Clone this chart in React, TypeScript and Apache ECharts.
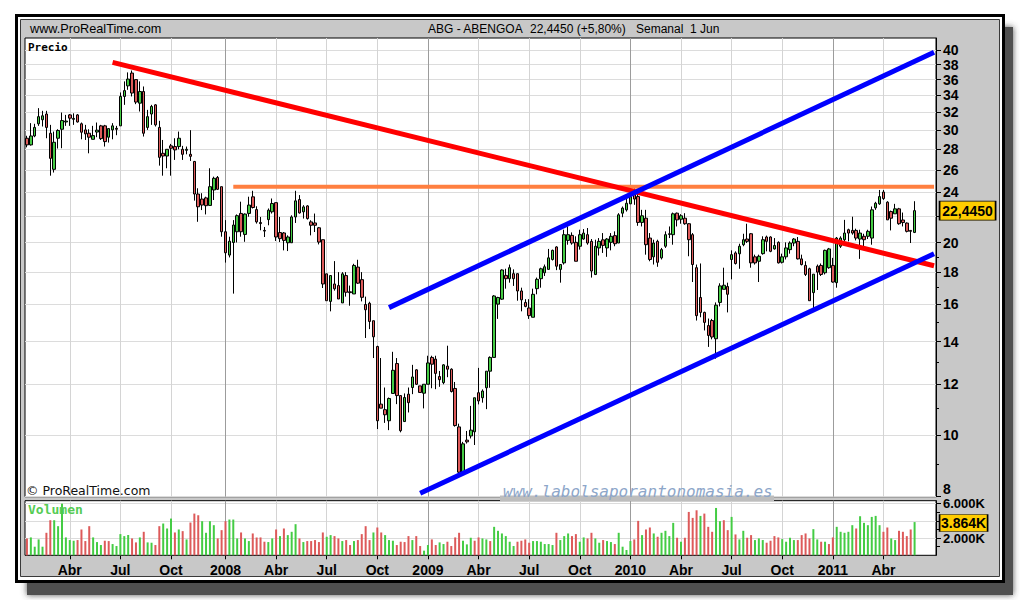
import React, { useEffect, useRef } from 'react';
import * as echarts from 'echarts';

// ---------- data ----------
const FIRST_WEEK = '2007-01-15';
const BLANK_WEEKS = 5;

// weekly candles: [open, close, low, high]
const ohlc2007 = [
  [29.14, 28.45, 28.2, 29.4], [28.45, 29.38, 28.38, 30.77], [29.38, 30.3, 29.25, 30.7], [30.7, 31.5, 30.47, 32.48],
  [31.15, 31.6, 30.4, 32.17], [31.8, 30.3, 29.14, 32.17], [29.67, 27.1, 25.46, 30.58], [26.05, 28.72, 25.75, 29.85],
  [29.14, 29.97, 28.08, 30.1], [30.1, 31.06, 28.11, 31.97], [30.9, 31.0, 30.47, 31.7], [31.7, 31.33, 30.47, 31.8],
  [31.2, 31.3, 30.58, 31.88], [31.7, 30.9, 30.84, 31.8], [30.7, 29.78, 29.03, 30.84], [30.03, 29.6, 28.96, 30.58],
  [29.67, 29.25, 27.6, 30.1], [29.03, 29.42, 29.03, 30.47], [29.8, 30.0, 29.25, 30.84], [30.47, 29.1, 28.96, 30.58],
  [30.47, 28.79, 28.28, 30.58], [29.25, 30.17, 28.69, 30.21], [30.03, 30.47, 29.03, 30.77], [30.2, 30.1, 29.46, 30.47],
  [30.47, 33.88, 30.47, 34.37], [33.88, 34.6, 32.87, 35.77], [35.2, 36.07, 34.7, 36.95], [36.86, 34.3, 33.88, 37.2],
  [36.0, 33.2, 32.95, 36.0], [33.07, 34.49, 32.09, 35.77], [34.49, 29.67, 29.32, 35.12], [30.3, 31.5, 30.03, 32.28],
  [31.8, 32.68, 30.58, 32.87], [32.87, 30.58, 30.4, 32.95], [30.3, 27.2, 26.4, 31.03], [27.6, 27.33, 25.46, 28.96],
  [27.33, 28.0, 26.15, 28.0], [28.35, 28.11, 25.46, 28.55], [28.28, 27.94, 26.95, 29.14], [28.28, 29.14, 28.0, 29.85],
  [28.0, 27.5, 26.95, 28.35], [27.9, 28.0, 27.5, 28.28], [27.5, 27.3, 26.85, 30.0], [26.8, 23.83, 23.27, 26.85],
  [23.83, 22.76, 21.56, 24.33], [23.4, 22.9, 22.49, 23.9], [23.5, 22.85, 22.14, 23.6], [22.87, 24.47, 22.87, 26.15],
  [24.18, 25.22, 23.32, 25.37], [25.3, 24.24, 24.18, 25.43], [24.47, 20.8, 20.43, 24.47],
];
const ohlc2008 = [
  [20.8, 19.28, 18.61, 21.69], [19.12, 20.1, 18.96, 20.43], [20.01, 21.31, 16.64, 21.69], [20.8, 22.04, 20.01, 22.14],
  [22.22, 20.8, 20.43, 23.18], [20.6, 22.17, 20.06, 22.22], [22.22, 22.9, 21.96, 23.6], [23.59, 22.7, 22.62, 24.11],
  [22.53, 21.55, 21.42, 22.8], [21.5, 21.42, 20.91, 21.94], [20.9, 20.85, 20.41, 21.16], [21.73, 22.48, 21.29, 22.62],
  [22.35, 23.03, 22.21, 23.45], [23.1, 20.41, 20.12, 23.1], [20.74, 20.29, 20.04, 21.94], [20.71, 20.16, 19.45, 20.78],
  [19.99, 20.41, 19.4, 20.53], [19.99, 21.94, 19.99, 22.07], [21.94, 23.25, 21.47, 24.11], [23.36, 22.26, 22.21, 23.74],
  [22.35, 22.75, 21.81, 22.89], [22.83, 21.81, 21.73, 22.89], [21.55, 21.29, 20.53, 21.68], [21.47, 21.29, 20.78, 22.21],
  [21.1, 20.04, 19.87, 21.16], [20.21, 17.23, 16.98, 20.21], [17.87, 16.22, 16.22, 17.87], [16.18, 17.76, 15.61, 17.76],
  [17.23, 16.93, 16.82, 18.71], [17.13, 16.32, 16.32, 17.98], [16.09, 17.87, 16.09, 17.98], [17.76, 16.72, 16.46, 17.98],
  [16.75, 16.7, 15.93, 17.13], [16.62, 18.42, 16.62, 18.53], [18.31, 17.28, 17.23, 18.8], [17.5, 16.42, 16.18, 17.98],
  [16.0, 15.7, 14.18, 16.46], [16.07, 15.05, 14.64, 16.16], [15.09, 14.24, 13.19, 15.09], [13.75, 10.52, 10.21, 13.79],
  [11.17, 11.01, 11.01, 13.19], [10.95, 10.75, 10.44, 11.86], [10.52, 11.4, 10.17, 11.44], [11.61, 12.62, 11.61, 13.49],
  [12.93, 11.52, 11.17, 13.19], [11.52, 10.15, 10.09, 11.52], [10.49, 11.44, 10.49, 11.61], [11.58, 11.23, 10.84, 11.86],
  [11.86, 12.32, 11.58, 12.87], [12.64, 12.0, 11.97, 12.67], [11.93, 11.65, 11.65, 11.93], [11.62, 12.0, 11.0, 12.0],
];
const ohlc2009 = [
  [12.0, 12.96, 12.0, 13.3], [13.22, 12.9, 11.83, 13.3], [13.14, 12.48, 11.79, 13.3], [12.34, 12.2, 11.89, 12.59],
  [12.07, 12.87, 12.0, 12.9], [12.81, 12.67, 12.31, 13.79], [12.67, 11.69, 11.65, 12.71], [11.82, 10.34, 10.3, 12.1],
  [10.29, 8.74, 8.64, 10.41], [8.74, 9.68, 8.74, 9.75], [9.81, 9.75, 9.69, 10.14], [9.96, 10.17, 9.87, 11.1],
  [10.11, 11.43, 9.64, 11.43], [11.64, 11.3, 11.16, 12.73], [11.43, 11.71, 11.23, 11.78], [11.85, 12.58, 10.97, 12.58],
  [12.58, 13.22, 11.85, 13.27], [13.22, 16.5, 13.21, 16.55], [16.02, 16.41, 15.19, 16.45], [16.31, 18.12, 16.27, 18.16],
  [17.77, 17.56, 16.94, 18.2], [17.56, 18.27, 17.31, 18.48], [17.88, 17.56, 17.11, 18.16], [17.88, 16.8, 16.22, 17.88],
  [16.8, 16.27, 15.61, 17.0], [16.12, 15.89, 15.84, 16.31], [15.8, 15.37, 15.19, 16.31], [15.28, 16.6, 15.28, 16.94],
  [16.94, 17.52, 16.6, 17.63], [17.56, 18.2, 17.0, 18.27], [17.94, 18.33, 17.73, 18.48], [18.16, 18.93, 18.16, 19.55],
  [18.82, 19.45, 18.75, 19.5], [19.69, 18.37, 18.11, 19.74], [18.16, 18.48, 17.31, 18.48], [18.59, 20.58, 18.48, 20.95],
  [20.16, 20.58, 19.85, 21.2], [20.53, 19.97, 19.85, 20.75], [20.02, 18.7, 18.7, 20.46], [19.74, 20.58, 19.5, 20.95],
  [20.26, 20.7, 20.21, 21.0], [20.58, 19.97, 19.85, 21.08], [20.09, 18.05, 17.63, 20.26], [17.83, 19.74, 17.79, 20.21],
  [19.62, 20.09, 19.09, 20.33], [20.2, 19.8, 19.27, 20.7], [19.62, 20.26, 19.0, 20.33], [20.02, 20.46, 19.45, 20.7],
  [20.51, 19.92, 19.74, 20.83], [19.97, 22.11, 19.97, 22.24], [22.24, 22.65, 21.92, 22.78], [22.51, 23.05, 22.37, 23.61],
];
const ohlc2010 = [
  [23.0, 23.61, 23.0, 24.47], [23.9, 23.4, 22.92, 24.33], [23.61, 21.51, 21.25, 23.89], [21.51, 22.03, 21.2, 22.51],
  [21.84, 19.85, 19.15, 22.51], [20.33, 18.82, 18.7, 20.7], [19.0, 19.97, 18.48, 20.21], [20.09, 18.63, 18.33, 20.21],
  [18.93, 19.5, 18.82, 19.62], [19.74, 20.58, 19.62, 20.83], [20.6, 20.65, 20.33, 21.2], [20.58, 22.19, 19.85, 22.29],
  [22.24, 21.71, 21.2, 22.29], [21.76, 22.03, 21.41, 22.16], [21.84, 21.41, 21.33, 22.24], [21.41, 20.21, 19.04, 21.46],
  [20.58, 18.48, 17.35, 20.7], [18.27, 15.37, 15.1, 18.48], [16.41, 15.55, 15.28, 18.55], [15.55, 15.0, 14.57, 15.59],
  [14.83, 14.31, 13.73, 15.21], [15.1, 14.23, 14.11, 15.19], [14.14, 15.96, 13.16, 16.12], [16.12, 17.11, 15.89, 17.27],
  [16.9, 17.15, 16.9, 18.27], [17.07, 16.6, 15.55, 17.31], [18.82, 19.15, 17.52, 19.45], [19.27, 18.55, 18.48, 19.38],
  [19.21, 19.74, 18.2, 19.92], [19.85, 20.21, 19.74, 20.65], [20.26, 20.09, 19.97, 21.41], [20.65, 18.59, 18.27, 20.7],
  [19.0, 18.59, 18.48, 19.15], [18.7, 19.04, 17.35, 19.15], [19.22, 20.21, 19.15, 20.46], [20.41, 20.09, 19.38, 20.51],
  [20.41, 19.38, 19.32, 20.46], [19.55, 19.79, 19.5, 20.33], [20.02, 18.59, 18.55, 20.09], [18.63, 19.0, 18.55, 19.22],
  [19.0, 19.62, 18.82, 20.02], [19.5, 19.97, 19.22, 20.09], [19.97, 20.26, 19.74, 20.33], [20.09, 18.86, 18.82, 20.41],
  [18.86, 18.48, 18.42, 19.15], [18.42, 17.83, 17.73, 18.7], [18.2, 16.22, 16.22, 18.27], [16.7, 17.85, 15.78, 17.85],
  [18.37, 17.98, 16.86, 18.48], [18.42, 17.83, 17.73, 18.55], [17.94, 19.45, 17.83, 19.5], [18.27, 19.55, 18.2, 19.62],
];
const ohlc2011 = [
  [18.42, 17.35, 17.31, 18.93], [17.31, 20.33, 17.0, 20.41], [19.74, 20.33, 19.62, 20.46], [20.21, 20.7, 20.09, 21.71],
  [20.95, 20.7, 20.09, 21.03], [20.9, 20.7, 20.58, 21.96], [20.9, 20.33, 20.16, 21.03], [20.26, 20.7, 18.86, 20.95],
  [20.46, 20.21, 19.74, 20.65], [20.46, 20.83, 20.26, 20.95], [20.33, 22.51, 19.85, 22.78], [22.67, 23.05, 22.51, 23.17],
  [23.0, 23.61, 22.92, 24.18], [24.0, 23.44, 23.33, 24.18], [23.14, 21.71, 21.71, 23.22], [22.37, 21.84, 20.9, 22.45],
  [22.19, 22.59, 22.19, 23.0], [22.59, 21.41, 21.33, 22.67], [21.7, 21.5, 21.2, 22.29], [21.46, 20.83, 20.75, 21.51],
  [20.9, 20.83, 19.97, 20.9], [20.75, 22.445, 20.7, 23.22],
];

// weekly volume, thousands of shares
const volume2007 = [
  1963, 2079, 1000, 1848, 1000, 2618, 4081, 4081, 3388, 6006, 2079, 1771, 1694, 1771, 3003, 1655, 3388,
  2079, 1540, 1194, 1694, 1655, 1309, 1078, 2464, 2233, 2349, 1963, 1501, 2079, 2733, 1501, 1463, 1194,
  3388, 3696, 3118, 4273, 2656, 3003, 2810, 1848, 3811, 4851, 4658, 3965, 2618, 3965, 3503, 1963, 2926,
];
const volume2008 = [
  3965, 4158, 4158, 1963, 2656, 1963, 1655, 2541, 2079, 2079, 1579, 1540, 1963, 3003, 2233, 3118, 2349, 2733,
  3619, 1963, 1540, 1655, 1655, 1771, 1540, 2656, 2156, 2349, 2233, 1963, 1655, 1771, 1194, 1655, 1771, 2464,
  3388, 1771, 2656, 3234, 2656, 2349, 1771, 1694, 1194, 1579, 1540, 2233, 1771, 2233, 1078, 539,
];
const volume2009 = [
  1194, 1848, 1194, 1501, 1309, 1579, 1078, 2079, 2618, 1694, 1271, 2041, 1694, 2079, 1963, 1848, 1655, 3311,
  2849, 2541, 2233, 1579, 1078, 1579, 1694, 1848, 1463, 1655, 1655, 1579, 1309, 1309, 1194, 2618, 1771, 2233,
  2541, 2233, 2464, 1579, 2079, 1963, 2618, 1963, 1463, 1771, 1655, 1540, 1309, 2618, 1000, 616,
];
const volume2010 = [
  1655, 1848, 4004, 2349, 3003, 3234, 2541, 2156, 2618, 2849, 2233, 3773, 2041, 1579, 2041, 5044, 4351, 5236,
  4582, 4851, 3311, 2734, 5506, 3966, 4081, 2926, 4466, 2426, 1848, 2849, 2041, 2349, 1771, 1963, 1771, 1463,
  1694, 2233, 2079, 1887, 1579, 2041, 1771, 1771, 2349, 2541, 1963, 3041, 1848, 1579, 1579, 1309,
];
const volume2011 = [
  2079, 3311, 2734, 2618, 2734, 3503, 3118, 4543, 3773, 3503, 4466, 4582, 3503, 2734, 3234, 1963, 1771, 2849,
  2734, 2233, 3003, 3864,
];
// volume bar colour: u = green (up), d = red (down)
const volumeDir2007 = 'duuuudduuu' + 'uuudddduuu' + 'dduuuuuddu' + 'duudduuudu' + 'duddduuuud' + 'd';
const volumeDir2008 = 'duuuduuddd' + 'duududuuud' + 'uddddduudd' + 'udduddddud' + 'duuuddddud' + 'du';
const volumeDir2009 = 'udduuddddu' + 'uudduuduuu' + 'uuudddduuu' + 'uuuduuuddu' + 'udduuduudu' + 'uu';
const volumeDir2010 = 'uddudduduu' + 'uududdddud' + 'dduudduduu' + 'dduuuddddu' + 'uuudddduud' + 'ud';
const volumeDir2011 = 'duuuuuduuu' + 'uuudduuddd' + 'du';

// axis ticks
const priceLabels = [8, 10, 12, 14, 16, 18, 20, 24, 26, 28, 30, 32, 34, 36, 38, 40];
const priceTicks = [8, 10, 12, 14, 16, 18, 20, 22, 24, 26, 28, 30, 32, 34, 36, 38, 40];
const priceMinorTicks = [9, 11, 13, 15, 17, 19];
const volumeLabels = [2000, 6000];
const volumeTicks = [2000, 4000, 6000];
const volumeMinorTicks = [1000, 3000, 5000];
const PRICE_MIN = 8;
const PRICE_MAX = 41.83;
const VOLUME_MAX = 6350;

// drawn trend lines: [week index, price]
const redTrend = [[22, 38.3], [233, 18.4]];
const blueUpper = [[93, 15.82], [233, 39.74]];
const blueLower = [[101, 8.1], [233, 19.21]];
const resistance = [[53, 24.46], [233, 24.46]];

const HEADER_SITE = 'www.ProRealTime.com';
const HEADER_NAME = 'ABG - ABENGOA';
const HEADER_QUOTE = '22,4450 (+5,80%)';
const HEADER_PERIOD = 'Semanal  1 Jun';
const WATERMARK = 'www.labolsaporantonomasia.es';
const COPYRIGHT = '\u00A9 ProRealTime.com';
const MONTHS = ['Abr', 'Jul', 'Oct'];

const FONT = "'Liberation Sans', Arial, Helvetica, sans-serif";
const MONO = "'DejaVu Sans Mono', monospace";
const UP = '#44cc44';
const DOWN = '#dd5a5a';

function buildOption() {
  const ohlc = [...ohlc2007, ...ohlc2008, ...ohlc2009, ...ohlc2010, ...ohlc2011];
  const volumes = [...volume2007, ...volume2008, ...volume2009, ...volume2010, ...volume2011];
  const dirs = (volumeDir2007 + volumeDir2008 + volumeDir2009 + volumeDir2010 + volumeDir2011).split('');
  const start = Date.parse(FIRST_WEEK + 'T00:00:00Z');
  const weeks = Array.from({ length: ohlc.length + BLANK_WEEKS }, (_, k) =>
    new Date(start + k * 7 * 86400000).toISOString().slice(0, 10)
  );
  const last = ohlc.length - 1;
  const month = (s: string) => Number(s.slice(5, 7)) - 1;
  const day = (s: string) => Number(s.slice(8, 10));
  const isQuarter = (i: number, s: string) => i <= last && month(s) % 3 === 0 && day(s) <= 7;
  const isYear = (i: number, s: string) => i <= last && month(s) === 0 && day(s) <= 7;
  const isQuarterOnly = (i: number, s: string) => isQuarter(i, s) && !isYear(i, s);
  const quarterName = (s: string) => (month(s) === 0 ? s.slice(0, 4) : MONTHS[month(s) / 3 - 1]);

  const lastClose = ohlc[last][1];
  const lastVolume = volumes[last];

  const baseX = {
    type: 'category',
    data: weeks,
    boundaryGap: true,
    axisLine: { show: false },
    axisTick: { show: false },
    axisLabel: { show: false },
  };
  const lightSplit = {
    show: true,
    interval: isQuarterOnly,
    alignWithLabel: true,
    lineStyle: { color: '#d4d4d4', width: 1 },
  };
  const darkSplit = {
    show: true,
    interval: isYear,
    alignWithLabel: true,
    lineStyle: { color: '#9c9c9c', width: 1 },
  };

  const grid0 = { left: 25, top: 38, width: 911, height: 458.7 };
  const grid1 = { left: 25, top: 500.7, width: 911, height: 54.6 };

  const priceTickLabel = (v: number) => {
    const r = Math.round(v);
    return r === 8 ? '{low|8}' : String(r);
  };
  const volLabel = (v: number) => (v / 1000).toFixed(3) + 'K';
  const labelStyle = { color: '#000', fontWeight: 'bold', fontSize: 14, fontFamily: FONT };

  const lineSeries = (data: number[][], color: string, width: number) => ({
    type: 'line',
    xAxisIndex: 0,
    yAxisIndex: 0,
    data,
    symbol: 'none',
    silent: true,
    z: 5,
    lineStyle: { color, width, cap: 'butt' },
  });

  return {
    animation: false,
    backgroundColor: '#ffffff',
    textStyle: { fontFamily: FONT },
    grid: [
      { ...grid0, show: true, backgroundColor: '#ffffff', borderColor: '#000', borderWidth: 1, outerBoundsMode: 'none', containLabel: false },
      { ...grid1, show: true, backgroundColor: '#ffffff', borderColor: '#000', borderWidth: 1, outerBoundsMode: 'none', containLabel: false },
    ],
    xAxis: [
      { ...baseX, gridIndex: 0, position: 'bottom', splitLine: lightSplit },
      { ...baseX, gridIndex: 0, position: 'top', splitLine: darkSplit },
      {
        ...baseX,
        gridIndex: 1,
        position: 'bottom',
        axisTick: { show: true, interval: isQuarter, alignWithLabel: true, length: 4, inside: false, lineStyle: { color: '#000' } },
        axisLabel: { show: true, interval: isQuarter, formatter: quarterName, margin: 8, ...labelStyle },
        splitLine: lightSplit,
      },
      { ...baseX, gridIndex: 1, position: 'top', splitLine: darkSplit },
    ],
    yAxis: [
      {
        type: 'log',
        logBase: 10,
        gridIndex: 0,
        position: 'right',
        min: PRICE_MIN,
        max: PRICE_MAX,
        axisLine: { show: true, lineStyle: { color: '#000', width: 1 } },
        axisTick: { show: true, customValues: priceTicks, length: 5, inside: false, lineStyle: { color: '#000' } },
        axisLabel: {
          show: true,
          customValues: priceLabels,
          formatter: priceTickLabel,
          margin: 7,
          ...labelStyle,
          rich: { low: { ...labelStyle, padding: [0, 0, 15, 0] } },
        },
        splitLine: { show: true, lineStyle: { color: '#dcdcdc', width: 1 } },
      },
      {
        type: 'log',
        logBase: 10,
        gridIndex: 0,
        position: 'right',
        min: PRICE_MIN,
        max: PRICE_MAX,
        axisLine: { show: false },
        axisTick: { show: true, customValues: priceMinorTicks, length: 3, inside: false, lineStyle: { color: '#000' } },
        axisLabel: { show: false },
        splitLine: { show: false },
      },
      {
        type: 'value',
        gridIndex: 1,
        position: 'right',
        min: 0,
        max: VOLUME_MAX,
        axisLine: { show: true, lineStyle: { color: '#000', width: 1 } },
        axisTick: { show: true, customValues: volumeTicks, length: 5, inside: false, lineStyle: { color: '#000' } },
        axisLabel: {
          show: true,
          customValues: volumeLabels,
          formatter: volLabel,
          margin: 7,
          ...labelStyle,
          fontSize: 13,
        },
        splitLine: { show: true, lineStyle: { color: '#dcdcdc', width: 1 } },
      },
      {
        type: 'value',
        gridIndex: 1,
        position: 'right',
        min: 0,
        max: VOLUME_MAX,
        axisLine: { show: false },
        axisTick: { show: true, customValues: volumeMinorTicks, length: 4, inside: false, lineStyle: { color: '#000' } },
        axisLabel: { show: false },
        splitLine: { show: false },
      },
    ],
    series: [
      {
        type: 'candlestick',
        xAxisIndex: 0,
        yAxisIndex: 0,
        data: ohlc,
        barWidth: 3,
        z: 3,
        itemStyle: {
          color: UP,
          color0: DOWN,
          borderColor: '#000',
          borderColor0: '#000',
          borderColorDoji: '#000',
          borderWidth: 1,
        },
        markPoint: {
          silent: true,
          symbol: 'rect',
          symbolSize: [56, 19],
          symbolOffset: [53, 0],
          itemStyle: { color: '#ffcc00', borderColor: '#000', borderWidth: 1 },
          label: { show: true, position: 'inside', formatter: () => lastClose.toFixed(4).replace('.', ','), ...labelStyle },
          data: [{ coord: [weeks[last], lastClose] }],
        },
      },
      lineSeries(resistance, '#ff7f40', 4),
      lineSeries(redTrend, '#ff0000', 5),
      lineSeries(blueUpper, '#0000ff', 5),
      lineSeries(blueLower, '#0000ff', 5),
      {
        type: 'bar',
        xAxisIndex: 2,
        yAxisIndex: 2,
        barWidth: 2,
        data: volumes.map((v, i) => ({ value: v, itemStyle: { color: dirs[i] === 'u' ? UP : DOWN } })),
        markPoint: {
          silent: true,
          symbol: 'rect',
          symbolSize: [48, 17],
          symbolOffset: [49, 1],
          itemStyle: { color: '#ffcc00', borderColor: '#000', borderWidth: 1 },
          label: { show: true, position: 'inside', formatter: () => (lastVolume / 1000).toFixed(3) + 'K', ...labelStyle },
          data: [{ coord: [weeks[last], lastVolume] }],
        },
      },
    ],
    graphic: {
      elements: [
        { type: 'rect', z: -30, silent: true, shape: { x: 27, y: 27, width: 986, height: 568 }, style: { fill: '#4f4f4f', shadowBlur: 6, shadowColor: 'rgba(60,60,60,0.9)' } },
        { type: 'rect', z: -29, silent: true, shape: { x: 16.5, y: 15.5, width: 987, height: 566 }, style: { fill: '#ffffff', stroke: '#000', lineWidth: 3 } },
        { type: 'rect', z: -28, silent: true, shape: { x: 20.5, y: 19.5, width: 979, height: 557 }, style: { fill: '#c8c8c8', stroke: '#3a3a3a', lineWidth: 1 } },
        { type: 'text', z: 50, silent: true, x: 30, y: 29, style: { text: HEADER_SITE, fill: '#000', fontSize: 12.7, fontFamily: FONT, verticalAlign: 'middle', textVerticalAlign: 'middle' } },
        { type: 'text', z: 50, silent: true, x: 428, y: 29, style: { text: HEADER_NAME, fill: '#000', fontSize: 12, fontFamily: FONT, verticalAlign: 'middle', textVerticalAlign: 'middle' } },
        { type: 'text', z: 50, silent: true, x: 530, y: 29, style: { text: HEADER_QUOTE, fill: '#000', fontSize: 12, fontFamily: FONT, verticalAlign: 'middle', textVerticalAlign: 'middle' } },
        { type: 'text', z: 50, silent: true, x: 636, y: 29, style: { text: HEADER_PERIOD, fill: '#000', fontSize: 12, fontFamily: FONT, verticalAlign: 'middle', textVerticalAlign: 'middle' } },
        { type: 'text', z: 50, silent: true, x: 28, y: 47.5, style: { text: 'Precio', fill: '#000', fontSize: 11, fontWeight: 'bold', fontFamily: MONO, verticalAlign: 'middle', textVerticalAlign: 'middle' } },
        { type: 'text', z: 50, silent: true, x: 28, y: 509.5, style: { text: 'Volumen', fill: '#55cc55', fontSize: 13, fontWeight: 'bold', fontFamily: MONO, verticalAlign: 'middle', textVerticalAlign: 'middle' } },
        { type: 'text', z: 50, silent: true, x: 26, y: 490, style: { text: COPYRIGHT, fill: '#111', fontSize: 12.5, fontFamily: "'DejaVu Sans', sans-serif", verticalAlign: 'middle', textVerticalAlign: 'middle' } },
        { type: 'rect', z: 49, silent: true, shape: { x: 500, y: 495.5, width: 274, height: 5.5 }, style: { fill: '#bdbdbd' } },
        { type: 'text', z: 50, silent: true, x: 503, y: 491, style: { text: WATERMARK, fill: '#8da6c9', fontSize: 16, fontStyle: 'italic', fontFamily: MONO, verticalAlign: 'middle', textVerticalAlign: 'middle' } },
      ],
    },
  };
}

export default function App() {
  const ref = useRef<HTMLDivElement>(null);
  useEffect(() => {
    if (!ref.current) return;
    const chart = echarts.init(ref.current, null, { renderer: 'svg' });
    chart.setOption(buildOption() as any);
    return () => chart.dispose();
  }, []);
  return (
    <div
      ref={ref}
      style={{ position: 'fixed', left: 0, top: 0, width: 1020, height: 600, background: '#fff' }}
    />
  );
}
